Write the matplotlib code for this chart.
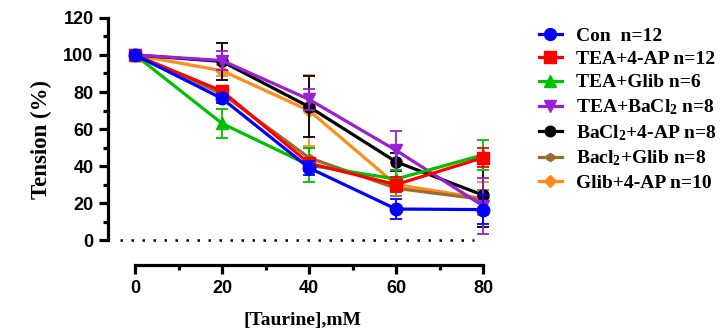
import matplotlib
matplotlib.use("Agg")
import matplotlib.pyplot as plt
from matplotlib.lines import Line2D

plt.rcParams['mathtext.fontset'] = 'custom'
plt.rcParams['mathtext.rm'] = 'Liberation Serif:bold'
plt.rcParams['mathtext.it'] = 'Liberation Serif:bold'
plt.rcParams['mathtext.bf'] = 'Liberation Serif:bold'

taurine = [0, 20, 40, 60, 80]

labels = ["Con  n=12", "TEA+4-AP n=12", "TEA+Glib n=6", r"TEA+BaCl$_2$ n=8",
          r"BaCl$_2$+4-AP n=8", r"Bacl$_2$+Glib n=8", "Glib+4-AP n=10"]

con = [100, 76.5, 39, 16.8, 16.5]
con_err = [1.5, 2.5, 4, 5.5, 8]
tea_4ap = [100, 80.5, 41.5, 30, 44.5]
tea_4ap_err = [2, 3, 3, 4, 5]
tea_glib = [100, 63, 40.5, 33, 46]
tea_glib_err = [0.5, 8, 9, 5, 8]
tea_bacl2 = [100, 97, 76, 48.5, 18.5]
tea_bacl2_err = [0.5, 5, 5.5, 10.5, 15]
bacl2_4ap = [100, 96.5, 72, 42.3, 24.3]
bacl2_4ap_err = [0.5, 10, 16.5, 5, 17]
bacl2_glib = [100, 79, 44.5, 28, 22]
bacl2_glib_err = [0.5, 3, 5, 4, 5]
glib_4ap = [100, 91.5, 70, 30, 22.5]
glib_4ap_err = [0.5, 3, 19, 4, 9]

series = [con, tea_4ap, tea_glib, tea_bacl2, bacl2_4ap, bacl2_glib, glib_4ap]
errors = [con_err, tea_4ap_err, tea_glib_err, tea_bacl2_err, bacl2_4ap_err, bacl2_glib_err, glib_4ap_err]
colors = ["#0000FF", "#FF0000", "#00C000", "#9B1FD6", "#000000", "#9A6B2F", "#FF8C1A"]
markers = ["o", "s", "^", "v", "o", "h", "D"]
msizes = [9, 9, 9, 9, 8, 6, 6.5]

fig = plt.figure(figsize=(7.21, 3.31), dpi=100)
ax = fig.add_axes([0.150, 0.199, 0.538, 0.758])

order = [6, 5, 4, 3, 2, 1, 0]
for i in order:
    ax.errorbar(taurine, series[i], yerr=errors[i], color=colors[i], marker=markers[i],
                markersize=msizes[i], linewidth=2.3, elinewidth=1.3, capsize=4, capthick=1.3,
                clip_on=False, zorder=3 + (6 - i))

ax.plot([-3.4, 78], [0, 0], linestyle=(0, (1, 3.4)), color="black", linewidth=1.8, clip_on=False, zorder=1)

ax.set_xlim(-6.2, 83)
ax.set_ylim(-13.5, 122)
ax.spines['top'].set_visible(False)
ax.spines['right'].set_visible(False)
ax.spines['left'].set_bounds(0, 120)
ax.spines['bottom'].set_bounds(0, 80)
for s in ['left', 'bottom']:
    ax.spines[s].set_linewidth(2.3)

ax.set_xticks([0, 20, 40, 60, 80])
ax.set_yticks([0, 20, 40, 60, 80, 100, 120])
ax.set_xticks([10, 30, 50, 70], minor=True)
ax.set_yticks([10, 30, 50, 70, 90, 110], minor=True)
ax.tick_params(axis='both', which='major', length=6.5, width=2.3, labelsize=13, pad=4)
ax.tick_params(axis='both', which='minor', length=3.5, width=2.3)
for lab in ax.get_xticklabels() + ax.get_yticklabels():
    lab.set_fontweight('bold')
    lab.set_family('Liberation Sans')

ax.set_xlabel("[Taurine],mM", fontsize=14, fontweight='bold', family='Liberation Serif', labelpad=11)
ax.set_ylabel("Tension (%)", fontsize=16.5, fontweight='bold', family='Liberation Serif', labelpad=8)

handles = [Line2D([], [], color=colors[i], marker=markers[i], markersize=msizes[i] * 0.95,
                  linewidth=2.3) for i in range(7)]
leg = fig.legend(handles, labels, loc='upper left', bbox_to_anchor=(0.737, 0.942),
                 frameon=False, prop={'family': 'Liberation Serif', 'weight': 'bold', 'size': 14},
                 handlelength=1.15, handletextpad=0.75, labelspacing=0.3, borderaxespad=0)

fig.savefig("out.png", dpi=100)
